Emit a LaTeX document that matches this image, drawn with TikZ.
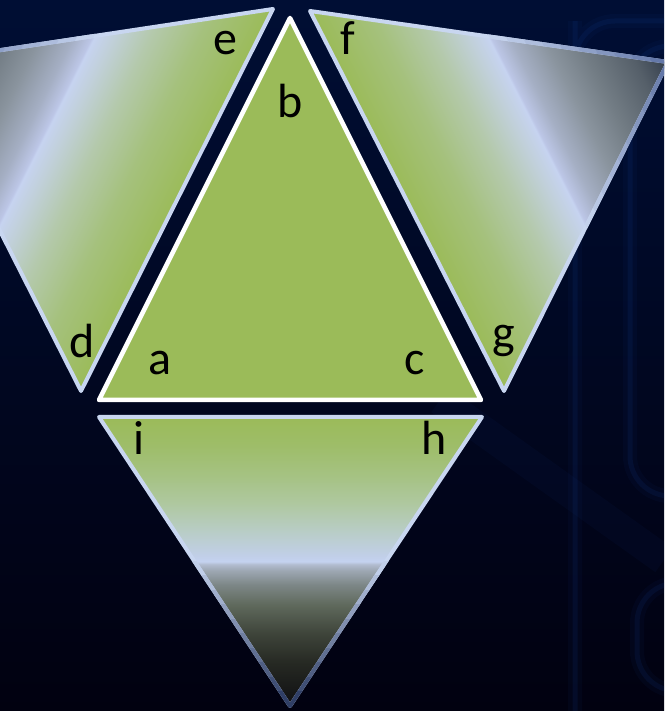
\documentclass[tikz,border=0pt]{standalone}
\usepackage{fontspec}
\setmainfont{Carlito}
\definecolor{grn}{RGB}{155,187,89}
\definecolor{bgtop}{RGB}{0,14,52}
\definecolor{bgbot}{RGB}{1,1,16}
\definecolor{glowc}{RGB}{20,70,160}
\definecolor{bdl}{RGB}{200,214,240}
\definecolor{bddside}{RGB}{95,115,165}
\definecolor{bddbot}{RGB}{40,55,95}
% bottom triangle shading colours
\definecolor{ba}{RGB}{15,15,18}
\definecolor{bb}{RGB}{38,41,35}
\definecolor{bc}{RGB}{62,68,58}
\definecolor{bd}{RGB}{95,105,92}
\definecolor{be}{RGB}{125,135,135}
\definecolor{bf}{RGB}{158,168,180}
\definecolor{bg}{RGB}{178,188,208}
\definecolor{bh}{RGB}{196,210,240}
\definecolor{bi}{RGB}{193,207,232}
\definecolor{bj}{RGB}{185,205,200}
\definecolor{bk}{RGB}{175,200,160}
\definecolor{bl}{RGB}{165,194,130}
\definecolor{bm}{RGB}{158,189,105}
% side triangle shading colours
\definecolor{sa}{RGB}{165,193,125}
\definecolor{sb}{RGB}{180,201,172}
\definecolor{sc}{RGB}{193,208,218}
\definecolor{sd}{RGB}{198,211,240}
\definecolor{se}{RGB}{188,198,230}
\definecolor{sf}{RGB}{165,175,196}
\definecolor{sg}{RGB}{138,148,158}
\definecolor{sh}{RGB}{115,125,133}
\definecolor{si}{RGB}{85,95,105}
\definecolor{sj}{RGB}{52,62,76}
\pgfdeclareverticalshading{botshade}{100bp}{%
 color(0bp)=(ba); color(25bp)=(ba); color(32.5bp)=(bb); color(37.5bp)=(bc);
 color(42.5bp)=(bd); color(46bp)=(be); color(48.5bp)=(bf); color(49.5bp)=(bg);
 color(50bp)=(bh); color(51bp)=(bi); color(55bp)=(bj); color(60bp)=(bk);
 color(65bp)=(bl); color(70bp)=(bm); color(75bp)=(grn); color(100bp)=(grn)}
\pgfdeclarehorizontalshading{sideshade}{100bp}{%
 color(0bp)=(grn); color(25bp)=(grn); color(34bp)=(sa); color(41.5bp)=(sb);
 color(47bp)=(sc); color(49.8bp)=(sd); color(50.2bp)=(se); color(53bp)=(sf);
 color(58bp)=(sg); color(63bp)=(sh); color(70bp)=(si); color(75bp)=(sj); color(100bp)=(sj)}
\tikzset{
 lbl/.style={font=\fontsize{48}{48}\selectfont, text=black, inner sep=0pt, anchor=base},
 sideborder/.style={draw=bdl, line width=4pt, line join=round},
 mainborder/.style={draw=white, line width=4.5pt, line join=round},
 glow/.style={draw=glowc, rounded corners=40pt, line width=#1},
}
\begin{document}
\begin{tikzpicture}[x=1pt, y=1pt]
\useasboundingbox (0,0) rectangle (664,711);
\clip (0,0) rectangle (664,711);
% background
\shade[top color=bgtop, bottom color=bgbot] (0,0) rectangle (664,711);
\begin{scope}[opacity=0.06]
 \draw[glow=14pt] (575,-20) -- (575,650) -- (575,690) -- (720,690);
 \draw[glow=14pt] (720,665) -- (630,665) -- (630,215) -- (720,215);
 \draw[glow=14pt] (720,128) -- (637,128) -- (637,20) -- (720,20);
 \draw[draw=glowc, line width=30pt] (440,311) -- (664,151);
\end{scope}
\begin{scope}[opacity=0.12]
 \draw[glow=5pt] (575,-20) -- (575,650) -- (575,690) -- (720,690);
 \draw[glow=5pt] (720,665) -- (630,665) -- (630,215) -- (720,215);
 \draw[glow=5pt] (720,128) -- (637,128) -- (637,20) -- (720,20);
\end{scope}
% vertices
\coordinate (A) at (99,311);
\coordinate (C) at (481,311);
\coordinate (B) at (290,693);
\coordinate (D) at (81,320);
\coordinate (E) at (273,702);
\coordinate (L) at (-85,648);
\coordinate (F) at (310,700);
\coordinate (G) at (504,320);
\coordinate (R) at (668,649);
\coordinate (I) at (99,294);
\coordinate (H) at (482,294);
\coordinate (P) at (290,5);
% left triangle
\begin{scope}
 \clip (D) -- (E) -- (L) -- cycle;
 \begin{scope}[transform canvas={shift={(81,320)}, rotate=153.3}]
  \shade[shading=sideshade] (0,-460) rectangle (296,30);
 \end{scope}
\end{scope}
\draw[sideborder] (D) -- (E) -- (L) -- cycle;
\foreach \k in {0,...,9} {
 \pgfmathsetmacro\m{95-10*\k}
 \pgfmathsetmacro\xa{148+14.8*\k}
 \pgfmathsetmacro\xb{ifthenelse(\k==9,420,148+14.8*(\k+1)+0.5)}
 \begin{scope}
  \clip[shift={(81,320)}, rotate=153.3] (\xa,-480) -- (\xb,-480) -- (\xb,40) -- (\xa,40) -- cycle;
  \draw[sideborder, draw=bdl!\m!bddside] (D) -- (E) -- (L) -- cycle;
 \end{scope}
}
% right triangle
\begin{scope}
 \clip (G) -- (F) -- (R) -- cycle;
 \begin{scope}[transform canvas={shift={(504,320)}, rotate=27.05}]
  \shade[shading=sideshade] (0,-30) rectangle (296,460);
 \end{scope}
\end{scope}
\draw[sideborder] (G) -- (F) -- (R) -- cycle;
\foreach \k in {0,...,9} {
 \pgfmathsetmacro\m{95-10*\k}
 \pgfmathsetmacro\xa{148+14.8*\k}
 \pgfmathsetmacro\xb{ifthenelse(\k==9,420,148+14.8*(\k+1)+0.5)}
 \begin{scope}
  \clip[shift={(504,320)}, rotate=27.05] (\xa,-40) -- (\xb,-40) -- (\xb,480) -- (\xa,480) -- cycle;
  \draw[sideborder, draw=bdl!\m!bddside] (G) -- (F) -- (R) -- cycle;
 \end{scope}
}
% bottom triangle
\shade[shading=botshade] (I) -- (H) -- (P) -- cycle;
\draw[sideborder] (I) -- (H) -- (P) -- cycle;
\foreach \k in {0,...,9} {
 \pgfmathsetmacro\m{95-10*\k}
 \pgfmathsetmacro\ya{149.5-14.5*\k}
 \pgfmathsetmacro\yb{ifthenelse(\k==9,-20,149.5-14.5*(\k+1)-0.5)}
 \begin{scope}
  \clip (60,\ya) rectangle (520,\yb);
  \draw[sideborder, draw=bdl!\m!bddbot] (I) -- (H) -- (P) -- cycle;
 \end{scope}
}
% central triangle
\filldraw[fill=grn, mainborder] (A) -- (C) -- (B) -- cycle;
% labels
\node[lbl] (la) at (160,336) {a};
\node[lbl] (lb) at (290,593) {b};
\node[lbl] (lc) at (415,336) {c};
\node[lbl] (ld) at (82,353) {d};
\node[lbl] (le) at (225,656) {e};
\node[lbl] (lf) at (348,656) {f};
\node[lbl] (lg) at (504,362) {g};
\node[lbl] (lh) at (434,256) {h};
\node[lbl] (li) at (139,256) {i};
\end{tikzpicture}
\end{document}
